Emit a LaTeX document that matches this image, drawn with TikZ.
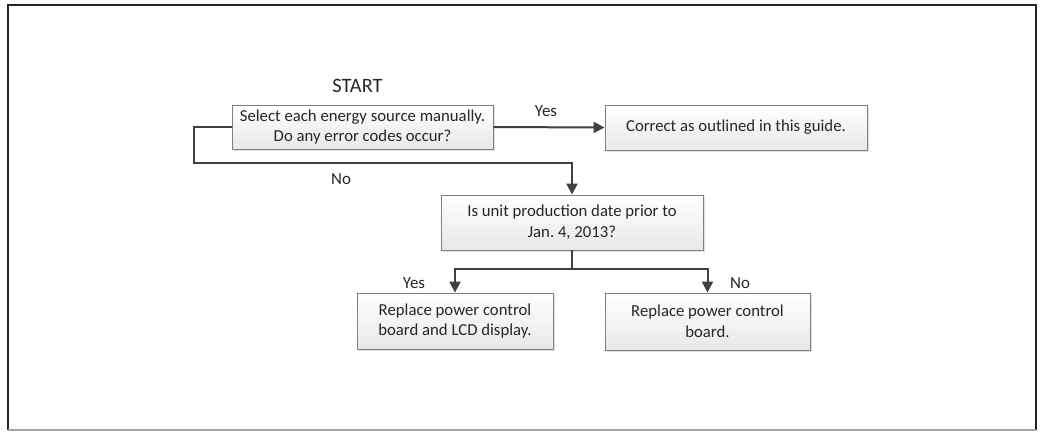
\documentclass[tikz,border=0pt]{standalone}
\usepackage{fontspec}
\setmainfont{Carlito}
\usetikzlibrary{arrows.meta,shadows}
\frenchspacing
\begin{document}
\begin{tikzpicture}[x=1bp,y=-1bp,
  box/.style={draw=black!50, line width=0.9bp, top color=white, bottom color=black!9,
    align=center, font=\fontsize{16.8}{20.8}\selectfont, inner sep=0pt, text=black!85,
    drop shadow={shadow xshift=2bp, shadow yshift=-2bp, fill=black!12, opacity=1}},
  conn/.style={draw=black!75, line width=2bp},
  arr/.style={conn, -{Triangle[length=11bp,width=11bp]}},
  lbl/.style={font=\fontsize{17}{20}\selectfont, inner sep=0pt, text=black!85},
  frame/.style={draw=black!85, line width=2.2bp}]
\useasboundingbox (0,0) rectangle (1043,432);
% outer frame
\draw[frame] (8,430) -- (8,5) -- (1036,5) -- (1036,430);
\draw[draw=black!35, line width=1.5bp] (8,430) -- (1036,430);

% boxes
\node[box, minimum width=261bp, minimum height=44bp] (q1) at (362.5,127)
  {Select each energy source manually.\\Do any error codes occur?};
\node[box, minimum width=262bp, minimum height=45bp] (fix) at (736,127.5)
  {Correct as outlined in this guide.};
\node[box, minimum width=262bp, minimum height=55bp] (q2) at (572,222.5)
  {Is unit production date prior to\\Jan. 4, 2013?};
\node[box, minimum width=196bp, minimum height=56bp] (both) at (455,321)
  {Replace power control\\board and LCD display.};
\node[box, minimum width=205bp, minimum height=57bp] (pcb) at (707.5,321.5)
  {Replace power control\\board.};

% labels
\node[font=\fontsize{20.5}{24}\selectfont, inner sep=0pt, text=black!85] (start) at (357.5,86) {START};
\node[lbl] (yes1) at (546,111) {Yes};
\node[lbl] (no1) at (341,179) {No};
\node[lbl] (yes2) at (414,283) {Yes};
\node[lbl] (no2) at (740,283) {No};

% connectors
\coordinate (l1) at (194,127);
\coordinate (l2) at (194,163);
\coordinate (l3) at (572,163);
\coordinate (s) at (572,269);
\draw[arr] (q1.east) -- (fix.west);
\draw[arr] (q1.west) -- (l1) -- (l2) -- (l3) -- (q2.north);
\draw[conn] (q2.south) -- (s);
\draw[arr] (s) -- (s -| both.north) -- (both.north);
\draw[arr] (s) -- (s -| pcb.north) -- (pcb.north);
\end{tikzpicture}
\end{document}
